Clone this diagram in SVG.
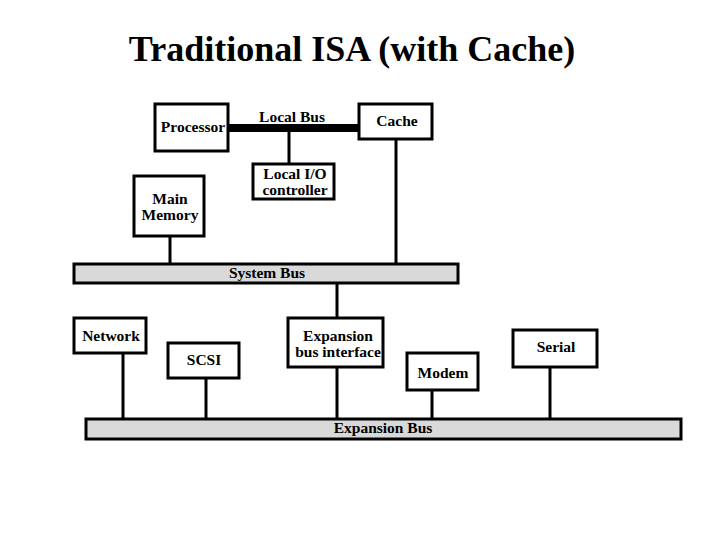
<svg xmlns="http://www.w3.org/2000/svg" width="720" height="540" viewBox="0 0 720 540">
<style>
.box{fill:#fff;stroke:#000;stroke-width:3}
.bus{fill:#d9d9d9;stroke:#000;stroke-width:3}
.lbl{font-family:"Liberation Serif","Times New Roman",serif;font-weight:bold;font-size:15.5px;text-anchor:middle;fill:#000}
.title{font-family:"Liberation Serif","Times New Roman",serif;font-weight:bold;font-size:36px;text-anchor:middle;fill:#000}
.ln{stroke:#000;stroke-width:3;fill:none}
</style>
<rect width="720" height="540" fill="#fff"/>
<text class="title" x="352" y="61">Traditional ISA (with Cache)</text>
<g id="connectors">
<line class="ln" x1="228" y1="128" x2="359" y2="128" style="stroke-width:8"/>
<line class="ln" x1="289" y1="128" x2="289" y2="164"/>
<line class="ln" x1="396" y1="139" x2="396" y2="264"/>
<line class="ln" x1="170" y1="236" x2="170" y2="264"/>
<line class="ln" x1="337" y1="283" x2="337" y2="318"/>
<line class="ln" x1="123" y1="353" x2="123" y2="419"/>
<line class="ln" x1="206" y1="378" x2="206" y2="419"/>
<line class="ln" x1="337" y1="367" x2="337" y2="419"/>
<line class="ln" x1="432" y1="390" x2="432" y2="419"/>
<line class="ln" x1="550" y1="367" x2="550" y2="419"/>
<text class="lbl" x="292" y="122">Local Bus</text>
</g>
<g id="processor"><rect class="box" x="155" y="104" width="73" height="47"/><text class="lbl" x="193" y="132">Processor</text></g>
<g id="cache"><rect class="box" x="359" y="104" width="73" height="35"/><text class="lbl" x="397" y="126">Cache</text></g>
<g id="local-io"><rect class="box" x="253" y="164" width="81" height="35"/><text class="lbl" x="295" y="179">Local I/O</text><text class="lbl" x="295" y="195">controller</text></g>
<g id="main-memory"><rect class="box" x="134" y="176" width="70" height="60"/><text class="lbl" x="170" y="204">Main</text><text class="lbl" x="170" y="220">Memory</text></g>
<g id="system-bus"><rect class="bus" x="74" y="264" width="384" height="19"/><text class="lbl" x="267" y="278">System Bus</text></g>
<g id="network"><rect class="box" x="74" y="318" width="72" height="35"/><text class="lbl" x="111" y="341">Network</text></g>
<g id="scsi"><rect class="box" x="168" y="343" width="71" height="35"/><text class="lbl" x="204" y="365">SCSI</text></g>
<g id="expansion-bus-interface"><rect class="box" x="288" y="318" width="95" height="49"/><text class="lbl" x="338" y="341">Expansion</text><text class="lbl" x="338" y="357">bus interface</text></g>
<g id="modem"><rect class="box" x="407" y="353" width="71" height="37"/><text class="lbl" x="443" y="378">Modem</text></g>
<g id="serial"><rect class="box" x="513" y="330" width="84" height="37"/><text class="lbl" x="556" y="352">Serial</text></g>
<g id="expansion-bus"><rect class="bus" x="86" y="419" width="595" height="20"/><text class="lbl" x="383" y="433">Expansion Bus</text></g>
</svg>
